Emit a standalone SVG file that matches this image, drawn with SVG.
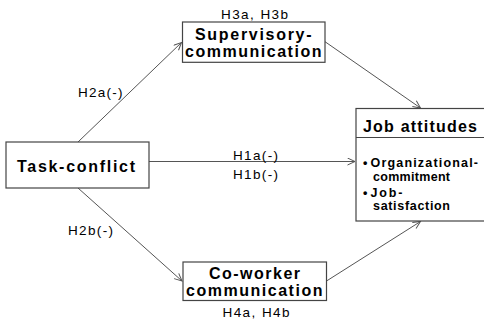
<svg xmlns="http://www.w3.org/2000/svg" width="484" height="324" viewBox="0 0 484 324">
<defs>
<marker id="arr" markerWidth="10" markerHeight="10" refX="8" refY="4" orient="auto" markerUnits="userSpaceOnUse">
<path d="M0.5,0.5 L8,4 L0.5,7.5" fill="none" stroke="#555" stroke-width="1"/>
</marker>
<style>
.box{fill:#fff;stroke:#444;stroke-width:1.2}
.conn line{stroke:#555;stroke-width:1;marker-end:url(#arr)}
.b{font-family:"Liberation Sans",Arial,sans-serif;font-weight:bold;font-size:16px;fill:#000}
.s{font-family:"Liberation Sans",Arial,sans-serif;font-weight:bold;font-size:12.5px;fill:#000}
.l{font-family:"Liberation Sans",Arial,sans-serif;font-size:13.5px;fill:#000}
</style>
</defs>
<rect width="484" height="324" fill="#fff"/>
<g class="conn" id="connectors">
<line x1="78" y1="142" x2="181.5" y2="42.5"/>
<line x1="78" y1="188" x2="182" y2="281"/>
<line x1="149" y1="161.5" x2="355" y2="161.5"/>
<line x1="325" y1="41.7" x2="420.5" y2="108"/>
<line x1="326.5" y1="281" x2="420.5" y2="221.5"/>
</g>
<g id="labels">
<text class="l" x="233" y="160" textLength="45" lengthAdjust="spacing">H1a(-)</text>
<text class="l" x="233" y="178.5" textLength="45" lengthAdjust="spacing">H1b(-)</text>
<text class="l" x="78" y="97" textLength="44.5" lengthAdjust="spacing">H2a(-)</text>
<text class="l" x="68" y="235" textLength="45" lengthAdjust="spacing">H2b(-)</text>
</g>
<g id="task-conflict">
<rect class="box" x="6" y="142" width="143" height="46"/>
<text class="b" x="17" y="171.5" textLength="118" lengthAdjust="spacing">Task-conflict</text>
</g>
<g id="supervisory-communication">
<text class="l" x="221" y="19" textLength="67" lengthAdjust="spacing">H3a, H3b</text>
<rect class="box" x="182.5" y="22" width="142.5" height="40.3"/>
<text class="b" x="195" y="40" textLength="116.5" lengthAdjust="spacing">Supervisory-</text>
<text class="b" x="185" y="56.5" textLength="136.5" lengthAdjust="spacing">communication</text>
</g>
<g id="co-worker-communication">
<rect class="box" x="183" y="262" width="143.5" height="38.5"/>
<text class="b" x="209" y="278.5" textLength="91" lengthAdjust="spacing">Co-worker</text>
<text class="b" x="186" y="295.5" textLength="136.5" lengthAdjust="spacing">communication</text>
<text class="l" x="222.5" y="316.5" textLength="67" lengthAdjust="spacing">H4a, H4b</text>
</g>
<g id="job-attitudes">
<rect class="box" x="356" y="108.5" width="140" height="112.5"/>
<line x1="356" y1="137.5" x2="496" y2="137.5" stroke="#444" stroke-width="1.2"/>
<text class="b" x="363" y="131.5" textLength="114" lengthAdjust="spacing">Job attitudes</text>
<text class="s" x="363" y="167">•</text>
<text class="s" x="370.5" y="167" textLength="107.5" lengthAdjust="spacing">Organizational-</text>
<text class="s" x="373" y="181" textLength="77" lengthAdjust="spacing">commitment</text>
<text class="s" x="363" y="196.5">•</text>
<text class="s" x="370.5" y="196.5" textLength="32" lengthAdjust="spacing">Job-</text>
<text class="s" x="373" y="210" textLength="77" lengthAdjust="spacing">satisfaction</text>
</g>
</svg>
